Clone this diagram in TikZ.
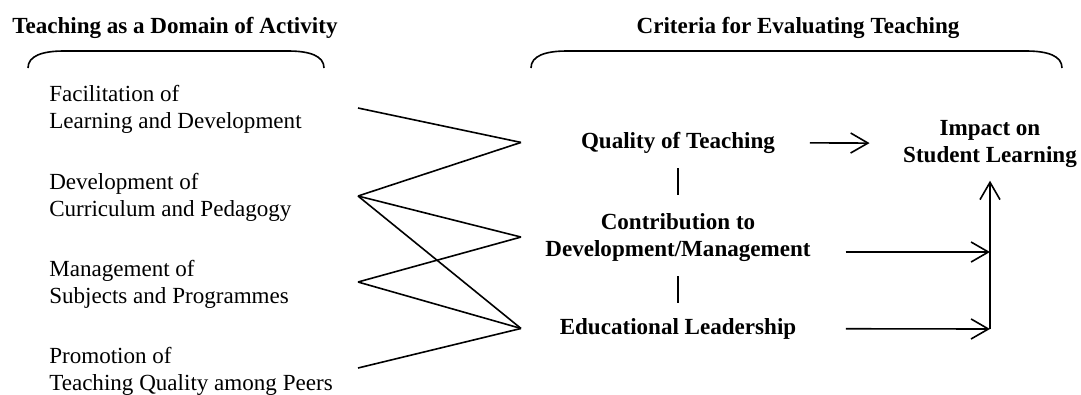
\documentclass[tikz,border=0pt]{standalone}
\usepackage{fontspec}
\setmainfont{Liberation Serif}
\usepackage{tikz}
\usetikzlibrary{calc}
\usetikzlibrary{arrows.meta}
\newcommand{\bracket}[2]{\draw[line width=1.2pt] ( #1 , 68 ) .. controls ( #1 , 56 ) and ( #1 + 14 , 51 ) .. ( #1 + 36 , 51 ) -- ( #2 - 36 , 51 ) .. controls ( #2 - 14 , 51 ) and ( #2 , 56 ) .. ( #2 , 68 );}
\tikzset{
    head/.style={anchor=base, inner sep=0pt, font=\fontsize{17.3}{20.25}\selectfont\bfseries},
    activity/.style={anchor=base west, align=left, inner sep=0pt, font=\fontsize{17.3}{20.25}\selectfont},
    crit/.style={anchor=base, align=center, inner sep=0pt, font=\fontsize{17.3}{20.25}\selectfont\bfseries},
    link/.style={line width=1.2pt},
    flow/.style={line width=1.2pt, -{Straight Barb[length=13pt,width=15pt]}}
}

\begin{document}
\begin{tikzpicture}[x=0.75pt, y=-0.75pt]
        \useasboundingbox (0,0) rectangle (1081,394);
        % titles
        \node[head, anchor=base west] (acthead) at (12,33) {Teaching as a Domain of Activity};
        \node[head] (crithead) at (798,33) {Criteria for Evaluating Teaching};
        \bracket{28}{324}
        \bracket{531}{1062}
        % activities
        \node[activity] (facil) at (49,128) {Facilitation of\\Learning and Development};
        \node[activity] (devel) at (49,216) {Development of\\Curriculum and Pedagogy};
        \node[activity] (manag) at (49,303) {Management of\\Subjects and Programmes};
        \node[activity] (promo) at (49,390) {Promotion of\\Teaching Quality among Peers};
        % criteria
        \node[crit] (qual) at (678,148) {Quality of Teaching};
        \node[crit] (contrib) at (678,256) {Contribution to\\Development/Management};
        \node[crit] (edu) at (678,334) {Educational Leadership};
        \node[crit] (impact) at (990,162) {Impact on\\Student Learning};
        % ends of the links
        \coordinate (facil-e) at (358,108);
        \coordinate (devel-e) at (358,196);
        \coordinate (manag-e) at (358,282);
        \coordinate (promo-e) at (358,368);
        \coordinate (hub) at (521,0);
        \coordinate (trunk) at (990,329);
        \coordinate (jc) at (990,252);
        % links
        \draw[link] (facil-e) -- (qual -| hub);
        \draw[link] (devel-e) -- (qual -| hub);
        \draw[link] (devel-e) -- (contrib -| hub);
        \draw[link] (devel-e) -- (edu -| hub);
        \draw[link] (manag-e) -- (contrib -| hub);
        \draw[link] (manag-e) -- (edu -| hub);
        \draw[link] (promo-e) -- (edu -| hub);
        % criteria chain
        \draw[link, shorten <=11pt, shorten >=13pt] (qual) -- (contrib);
        \draw[link, shorten <=11pt, shorten >=11pt] (contrib) -- (edu);
        % arrows
        \draw[flow, shorten <=26pt, shorten >=25pt] (qual) -- (impact);
        \draw[flow] ([xshift=26pt]contrib.east |- jc) -- (jc);
        \draw[flow, shorten <=37pt] (edu) -- (trunk);
        \draw[flow, shorten >=10pt] (trunk) -- (impact);
\end{tikzpicture}
\end{document}
